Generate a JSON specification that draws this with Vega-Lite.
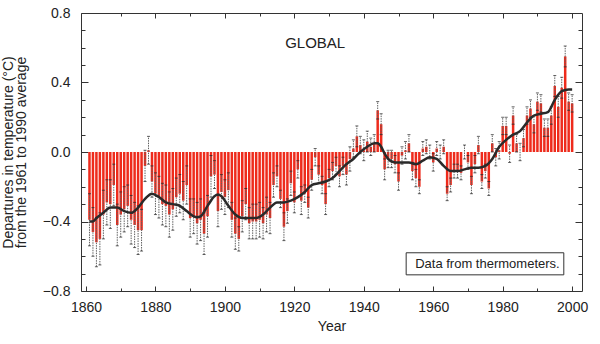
{
  "$schema": "https://vega.github.io/schema/vega-lite/v6.json",
  "width": 501,
  "height": 278,
  "autosize": {"type": "none"},
  "padding": {"left": 81, "top": 13, "right": 18, "bottom": 53},
  "background": "white",
  "config": {
    "view": {"stroke": "#333", "strokeWidth": 1},
    "font": "Liberation Sans",
    "axis": {
      "domain": false,
      "grid": false,
      "tickColor": "#333",
      "tickWidth": 1,
      "labelFont": "Liberation Sans",
      "labelFontSize": 14,
      "labelColor": "#222",
      "titleFont": "Liberation Sans",
      "titleFontSize": 14,
      "titleFontWeight": "normal",
      "titleColor": "#222"
    }
  },
  "datasets": {
    "obs": [
      {"year": 1861, "t": -0.39, "lo": -0.54, "hi": -0.24},
      {"year": 1862, "t": -0.46, "lo": -0.60, "hi": -0.32},
      {"year": 1863, "t": -0.52, "lo": -0.66, "hi": -0.38},
      {"year": 1864, "t": -0.50, "lo": -0.65, "hi": -0.35},
      {"year": 1865, "t": -0.36, "lo": -0.50, "hi": -0.22},
      {"year": 1866, "t": -0.29, "lo": -0.42, "hi": -0.16},
      {"year": 1867, "t": -0.30, "lo": -0.44, "hi": -0.16},
      {"year": 1868, "t": -0.19, "lo": -0.31, "hi": -0.07},
      {"year": 1869, "t": -0.42, "lo": -0.54, "hi": -0.30},
      {"year": 1870, "t": -0.36, "lo": -0.49, "hi": -0.23},
      {"year": 1871, "t": -0.33, "lo": -0.46, "hi": -0.20},
      {"year": 1872, "t": -0.31, "lo": -0.43, "hi": -0.19},
      {"year": 1873, "t": -0.39, "lo": -0.53, "hi": -0.25},
      {"year": 1874, "t": -0.42, "lo": -0.55, "hi": -0.29},
      {"year": 1875, "t": -0.45, "lo": -0.59, "hi": -0.31},
      {"year": 1876, "t": -0.45, "lo": -0.57, "hi": -0.33},
      {"year": 1877, "t": -0.08, "lo": -0.17, "hi": 0.01},
      {"year": 1878, "t": 0.01, "lo": -0.07, "hi": 0.09},
      {"year": 1879, "t": -0.17, "lo": -0.26, "hi": -0.08},
      {"year": 1880, "t": -0.24, "lo": -0.36, "hi": -0.12},
      {"year": 1881, "t": -0.26, "lo": -0.38, "hi": -0.14},
      {"year": 1882, "t": -0.30, "lo": -0.42, "hi": -0.18},
      {"year": 1883, "t": -0.31, "lo": -0.43, "hi": -0.19},
      {"year": 1884, "t": -0.36, "lo": -0.49, "hi": -0.23},
      {"year": 1885, "t": -0.33, "lo": -0.45, "hi": -0.21},
      {"year": 1886, "t": -0.26, "lo": -0.37, "hi": -0.15},
      {"year": 1887, "t": -0.24, "lo": -0.35, "hi": -0.13},
      {"year": 1888, "t": -0.28, "lo": -0.39, "hi": -0.17},
      {"year": 1889, "t": -0.19, "lo": -0.30, "hi": -0.08},
      {"year": 1890, "t": -0.38, "lo": -0.49, "hi": -0.27},
      {"year": 1891, "t": -0.37, "lo": -0.47, "hi": -0.27},
      {"year": 1892, "t": -0.41, "lo": -0.53, "hi": -0.29},
      {"year": 1893, "t": -0.39, "lo": -0.51, "hi": -0.27},
      {"year": 1894, "t": -0.47, "lo": -0.59, "hi": -0.35},
      {"year": 1895, "t": -0.37, "lo": -0.49, "hi": -0.25},
      {"year": 1896, "t": -0.14, "lo": -0.26, "hi": -0.02},
      {"year": 1897, "t": -0.13, "lo": -0.21, "hi": -0.05},
      {"year": 1898, "t": -0.34, "lo": -0.43, "hi": -0.25},
      {"year": 1899, "t": -0.23, "lo": -0.33, "hi": -0.13},
      {"year": 1900, "t": -0.26, "lo": -0.36, "hi": -0.16},
      {"year": 1901, "t": -0.22, "lo": -0.32, "hi": -0.12},
      {"year": 1902, "t": -0.39, "lo": -0.49, "hi": -0.29},
      {"year": 1903, "t": -0.47, "lo": -0.56, "hi": -0.38},
      {"year": 1904, "t": -0.50, "lo": -0.57, "hi": -0.43},
      {"year": 1905, "t": -0.37, "lo": -0.46, "hi": -0.28},
      {"year": 1906, "t": -0.30, "lo": -0.39, "hi": -0.21},
      {"year": 1907, "t": -0.41, "lo": -0.50, "hi": -0.32},
      {"year": 1908, "t": -0.40, "lo": -0.50, "hi": -0.30},
      {"year": 1909, "t": -0.40, "lo": -0.50, "hi": -0.30},
      {"year": 1910, "t": -0.39, "lo": -0.49, "hi": -0.29},
      {"year": 1911, "t": -0.41, "lo": -0.50, "hi": -0.32},
      {"year": 1912, "t": -0.36, "lo": -0.46, "hi": -0.26},
      {"year": 1913, "t": -0.38, "lo": -0.47, "hi": -0.29},
      {"year": 1914, "t": -0.19, "lo": -0.26, "hi": -0.12},
      {"year": 1915, "t": -0.14, "lo": -0.20, "hi": -0.08},
      {"year": 1916, "t": -0.27, "lo": -0.32, "hi": -0.22},
      {"year": 1917, "t": -0.43, "lo": -0.51, "hi": -0.35},
      {"year": 1918, "t": -0.34, "lo": -0.41, "hi": -0.27},
      {"year": 1919, "t": -0.18, "lo": -0.25, "hi": -0.11},
      {"year": 1920, "t": -0.29, "lo": -0.35, "hi": -0.23},
      {"year": 1921, "t": -0.10, "lo": -0.15, "hi": -0.05},
      {"year": 1922, "t": -0.28, "lo": -0.36, "hi": -0.20},
      {"year": 1923, "t": -0.24, "lo": -0.29, "hi": -0.19},
      {"year": 1924, "t": -0.32, "lo": -0.38, "hi": -0.26},
      {"year": 1925, "t": -0.16, "lo": -0.22, "hi": -0.10},
      {"year": 1926, "t": -0.03, "lo": -0.08, "hi": 0.02},
      {"year": 1927, "t": -0.13, "lo": -0.18, "hi": -0.08},
      {"year": 1928, "t": -0.19, "lo": -0.24, "hi": -0.14},
      {"year": 1929, "t": -0.30, "lo": -0.36, "hi": -0.24},
      {"year": 1930, "t": -0.15, "lo": -0.20, "hi": -0.10},
      {"year": 1931, "t": -0.11, "lo": -0.16, "hi": -0.06},
      {"year": 1932, "t": -0.08, "lo": -0.13, "hi": -0.03},
      {"year": 1933, "t": -0.14, "lo": -0.20, "hi": -0.08},
      {"year": 1934, "t": -0.08, "lo": -0.13, "hi": -0.03},
      {"year": 1935, "t": -0.13, "lo": -0.19, "hi": -0.07},
      {"year": 1936, "t": -0.04, "lo": -0.11, "hi": 0.03},
      {"year": 1937, "t": 0.02, "lo": -0.03, "hi": 0.07},
      {"year": 1938, "t": 0.09, "lo": 0.03, "hi": 0.15},
      {"year": 1939, "t": 0.04, "lo": -0.01, "hi": 0.09},
      {"year": 1940, "t": 0.01, "lo": -0.05, "hi": 0.07},
      {"year": 1941, "t": 0.06, "lo": 0.00, "hi": 0.12},
      {"year": 1942, "t": 0.03, "lo": -0.02, "hi": 0.08},
      {"year": 1943, "t": 0.05, "lo": 0.00, "hi": 0.10},
      {"year": 1944, "t": 0.24, "lo": 0.19, "hi": 0.29},
      {"year": 1945, "t": 0.16, "lo": 0.10, "hi": 0.22},
      {"year": 1946, "t": -0.10, "lo": -0.16, "hi": -0.04},
      {"year": 1947, "t": -0.04, "lo": -0.09, "hi": 0.01},
      {"year": 1948, "t": -0.04, "lo": -0.09, "hi": 0.01},
      {"year": 1949, "t": -0.07, "lo": -0.12, "hi": -0.02},
      {"year": 1950, "t": -0.17, "lo": -0.22, "hi": -0.12},
      {"year": 1951, "t": -0.02, "lo": -0.07, "hi": 0.03},
      {"year": 1952, "t": 0.01, "lo": -0.04, "hi": 0.06},
      {"year": 1953, "t": 0.05, "lo": 0.00, "hi": 0.10},
      {"year": 1954, "t": -0.11, "lo": -0.16, "hi": -0.06},
      {"year": 1955, "t": -0.15, "lo": -0.20, "hi": -0.10},
      {"year": 1956, "t": -0.20, "lo": -0.24, "hi": -0.16},
      {"year": 1957, "t": 0.02, "lo": -0.02, "hi": 0.06},
      {"year": 1958, "t": 0.03, "lo": -0.01, "hi": 0.07},
      {"year": 1959, "t": 0.00, "lo": -0.04, "hi": 0.04},
      {"year": 1960, "t": -0.06, "lo": -0.11, "hi": -0.01},
      {"year": 1961, "t": 0.02, "lo": -0.02, "hi": 0.06},
      {"year": 1962, "t": 0.00, "lo": -0.04, "hi": 0.04},
      {"year": 1963, "t": 0.03, "lo": -0.01, "hi": 0.07},
      {"year": 1964, "t": -0.24, "lo": -0.28, "hi": -0.20},
      {"year": 1965, "t": -0.19, "lo": -0.23, "hi": -0.15},
      {"year": 1966, "t": -0.11, "lo": -0.15, "hi": -0.07},
      {"year": 1967, "t": -0.11, "lo": -0.15, "hi": -0.07},
      {"year": 1968, "t": -0.12, "lo": -0.16, "hi": -0.08},
      {"year": 1969, "t": 0.00, "lo": -0.04, "hi": 0.04},
      {"year": 1970, "t": -0.06, "lo": -0.10, "hi": -0.02},
      {"year": 1971, "t": -0.19, "lo": -0.24, "hi": -0.14},
      {"year": 1972, "t": -0.07, "lo": -0.12, "hi": -0.02},
      {"year": 1973, "t": 0.04, "lo": -0.01, "hi": 0.09},
      {"year": 1974, "t": -0.17, "lo": -0.21, "hi": -0.13},
      {"year": 1975, "t": -0.11, "lo": -0.15, "hi": -0.07},
      {"year": 1976, "t": -0.21, "lo": -0.25, "hi": -0.17},
      {"year": 1977, "t": 0.05, "lo": 0.00, "hi": 0.10},
      {"year": 1978, "t": -0.03, "lo": -0.08, "hi": 0.02},
      {"year": 1979, "t": 0.01, "lo": -0.04, "hi": 0.06},
      {"year": 1980, "t": 0.15, "lo": 0.10, "hi": 0.20},
      {"year": 1981, "t": 0.15, "lo": 0.10, "hi": 0.20},
      {"year": 1982, "t": -0.01, "lo": -0.06, "hi": 0.04},
      {"year": 1983, "t": 0.21, "lo": 0.16, "hi": 0.26},
      {"year": 1984, "t": 0.05, "lo": 0.00, "hi": 0.10},
      {"year": 1985, "t": 0.00, "lo": -0.05, "hi": 0.05},
      {"year": 1986, "t": 0.08, "lo": 0.03, "hi": 0.13},
      {"year": 1987, "t": 0.21, "lo": 0.16, "hi": 0.26},
      {"year": 1988, "t": 0.25, "lo": 0.20, "hi": 0.30},
      {"year": 1989, "t": 0.16, "lo": 0.11, "hi": 0.21},
      {"year": 1990, "t": 0.29, "lo": 0.24, "hi": 0.34},
      {"year": 1991, "t": 0.28, "lo": 0.23, "hi": 0.33},
      {"year": 1992, "t": 0.14, "lo": 0.09, "hi": 0.19},
      {"year": 1993, "t": 0.14, "lo": 0.09, "hi": 0.19},
      {"year": 1994, "t": 0.21, "lo": 0.16, "hi": 0.26},
      {"year": 1995, "t": 0.38, "lo": 0.32, "hi": 0.44},
      {"year": 1996, "t": 0.26, "lo": 0.20, "hi": 0.32},
      {"year": 1997, "t": 0.37, "lo": 0.31, "hi": 0.43},
      {"year": 1998, "t": 0.55, "lo": 0.49, "hi": 0.61},
      {"year": 1999, "t": 0.29, "lo": 0.24, "hi": 0.34},
      {"year": 2000, "t": 0.28, "lo": 0.23, "hi": 0.33}
    ],
    "smooth": [
      {"year": 1861, "s": -0.40}, {"year": 1862, "s": -0.40}, {"year": 1863, "s": -0.38},
      {"year": 1865, "s": -0.35}, {"year": 1867, "s": -0.32}, {"year": 1869, "s": -0.32},
      {"year": 1871, "s": -0.34}, {"year": 1873, "s": -0.35}, {"year": 1875, "s": -0.32},
      {"year": 1877, "s": -0.27}, {"year": 1879, "s": -0.24}, {"year": 1881, "s": -0.26},
      {"year": 1883, "s": -0.29}, {"year": 1885, "s": -0.30}, {"year": 1887, "s": -0.31},
      {"year": 1889, "s": -0.34}, {"year": 1891, "s": -0.37}, {"year": 1892, "s": -0.375},
      {"year": 1893, "s": -0.37}, {"year": 1895, "s": -0.31}, {"year": 1897, "s": -0.255},
      {"year": 1898, "s": -0.245}, {"year": 1899, "s": -0.255}, {"year": 1901, "s": -0.31},
      {"year": 1903, "s": -0.36}, {"year": 1905, "s": -0.38}, {"year": 1907, "s": -0.38},
      {"year": 1909, "s": -0.38}, {"year": 1911, "s": -0.36}, {"year": 1913, "s": -0.32},
      {"year": 1915, "s": -0.29}, {"year": 1917, "s": -0.29}, {"year": 1919, "s": -0.28},
      {"year": 1921, "s": -0.26}, {"year": 1923, "s": -0.23}, {"year": 1925, "s": -0.19},
      {"year": 1927, "s": -0.18}, {"year": 1929, "s": -0.17}, {"year": 1931, "s": -0.15},
      {"year": 1933, "s": -0.11}, {"year": 1935, "s": -0.07}, {"year": 1937, "s": -0.04},
      {"year": 1939, "s": 0.00}, {"year": 1941, "s": 0.03}, {"year": 1943, "s": 0.05},
      {"year": 1944, "s": 0.05}, {"year": 1945, "s": 0.03}, {"year": 1946, "s": -0.01},
      {"year": 1947, "s": -0.04}, {"year": 1949, "s": -0.06}, {"year": 1951, "s": -0.06},
      {"year": 1953, "s": -0.06}, {"year": 1955, "s": -0.07}, {"year": 1957, "s": -0.05},
      {"year": 1959, "s": -0.03}, {"year": 1961, "s": -0.04}, {"year": 1963, "s": -0.08},
      {"year": 1965, "s": -0.11}, {"year": 1967, "s": -0.11}, {"year": 1969, "s": -0.10},
      {"year": 1971, "s": -0.09}, {"year": 1973, "s": -0.09}, {"year": 1975, "s": -0.08},
      {"year": 1977, "s": -0.04}, {"year": 1979, "s": 0.03}, {"year": 1981, "s": 0.07},
      {"year": 1983, "s": 0.10}, {"year": 1985, "s": 0.12}, {"year": 1987, "s": 0.17},
      {"year": 1989, "s": 0.21}, {"year": 1991, "s": 0.22}, {"year": 1993, "s": 0.23},
      {"year": 1995, "s": 0.30}, {"year": 1997, "s": 0.35}, {"year": 1999, "s": 0.36},
      {"year": 2000, "s": 0.36}
    ],
    "box": [
      {"x1": 1952.2, "x2": 1997.6, "y1": -0.58, "y2": -0.707, "label": "Data from thermometers.", "tx": 1954.8, "ty": -0.643}
    ],
    "title": [
      {"year": 1926, "v": 0.63, "label": "GLOBAL"}
    ]
  },
  "resolve": {"axis": {"x": "independent", "y": "independent"}},
  "layer": [
    {
      "data": {"name": "obs"},
      "mark": {"type": "bar", "color": "#ee2b1c", "size": 2.5},
      "encoding": {
        "x": {
          "field": "year", "type": "quantitative",
          "scale": {"domain": [1860, 2001.4], "nice": false, "zero": false},
          "axis": {
            "orient": "bottom",
            "values": [1860, 1870, 1880, 1890, 1900, 1910, 1920, 1930, 1940, 1950, 1960, 1970, 1980, 1990, 2000],
            "format": "d",
            "labelExpr": "datum.value % 20 == 0 ? datum.label : ''",
            "tickSize": {"condition": {"test": "datum.value % 20 == 0", "value": -5}, "value": -3},
            "labelPadding": 14,
            "title": "Year",
            "titlePadding": 5
          }
        },
        "y": {
          "field": "t", "type": "quantitative",
          "scale": {"domain": [-0.8, 0.8], "nice": false},
          "axis": {
            "orient": "left",
            "values": [-0.8, -0.7, -0.6, -0.5, -0.4, -0.3, -0.2, -0.1, 0, 0.1, 0.2, 0.3, 0.4, 0.5, 0.6, 0.7, 0.8],
            "labelExpr": "abs(round(datum.value * 10)) % 4 == 0 ? format(datum.value, '.1f') : ''",
            "tickSize": {"condition": {"test": "abs(round(datum.value * 10)) % 4 == 0", "value": -7}, "value": -4},
            "labelPadding": 18,
            "title": ["Departures in temperature (°C)", "from the 1961 to 1990 average"],
            "titleLineHeight": 13,
            "titleX": -66,
            "titleY": 139,
            "titleAngle": 270,
            "titleAlign": "center",
            "titleBaseline": "bottom"
          }
        }
      }
    },
    {
      "data": {"name": "obs"},
      "mark": {"type": "rule", "color": "#606060", "strokeWidth": 1, "strokeDash": [1.5, 1]},
      "encoding": {
        "x": {"field": "year", "type": "quantitative", "axis": null},
        "y": {"field": "lo", "type": "quantitative", "axis": null},
        "y2": {"field": "hi"}
      }
    },
    {
      "data": {"name": "obs"},
      "mark": {"type": "tick", "orient": "horizontal", "size": 3, "thickness": 1, "color": "#222"},
      "encoding": {
        "x": {"field": "year", "type": "quantitative", "axis": null},
        "y": {"field": "lo", "type": "quantitative", "axis": null}
      }
    },
    {
      "data": {"name": "obs"},
      "mark": {"type": "tick", "orient": "horizontal", "size": 3, "thickness": 1, "color": "#222"},
      "encoding": {
        "x": {"field": "year", "type": "quantitative", "axis": null},
        "y": {"field": "hi", "type": "quantitative", "axis": null}
      }
    },
    {
      "data": {"name": "smooth"},
      "mark": {"type": "line", "color": "#2a2a2a", "strokeWidth": 2.5, "interpolate": "monotone"},
      "encoding": {
        "x": {
          "field": "year", "type": "quantitative",
          "axis": {
            "orient": "top",
            "values": [1870, 1880, 1890, 1900, 1910, 1920, 1930, 1940, 1950, 1960, 1970, 1980, 1990, 2000],
            "labels": false,
            "tickSize": {"condition": {"test": "datum.value % 20 == 0", "value": -5}, "value": -3},
            "title": null
          }
        },
        "y": {
          "field": "s", "type": "quantitative",
          "axis": {
            "orient": "right",
            "values": [-0.7, -0.6, -0.5, -0.4, -0.3, -0.2, -0.1, 0, 0.1, 0.2, 0.3, 0.4, 0.5, 0.6, 0.7],
            "labels": false,
            "tickSize": {"condition": {"test": "abs(round(datum.value * 10)) % 4 == 0", "value": -7}, "value": -4},
            "title": null
          }
        }
      }
    },
    {
      "data": {"name": "box"},
      "mark": {"type": "rect", "fill": "white", "stroke": "#333", "strokeWidth": 1},
      "encoding": {
        "x": {"field": "x1", "type": "quantitative", "axis": null},
        "x2": {"field": "x2"},
        "y": {"field": "y1", "type": "quantitative", "axis": null},
        "y2": {"field": "y2"}
      }
    },
    {
      "data": {"name": "box"},
      "mark": {"type": "text", "align": "left", "baseline": "middle", "font": "Liberation Sans", "fontSize": 13, "color": "#222"},
      "encoding": {
        "x": {"field": "tx", "type": "quantitative", "axis": null},
        "y": {"field": "ty", "type": "quantitative", "axis": null},
        "text": {"field": "label"}
      }
    },
    {
      "data": {"name": "title"},
      "mark": {"type": "text", "align": "center", "baseline": "middle", "font": "Liberation Sans", "fontSize": 15, "color": "#222"},
      "encoding": {
        "x": {"field": "year", "type": "quantitative", "axis": null},
        "y": {"field": "v", "type": "quantitative", "axis": null},
        "text": {"field": "label"}
      }
    }
  ]
}
